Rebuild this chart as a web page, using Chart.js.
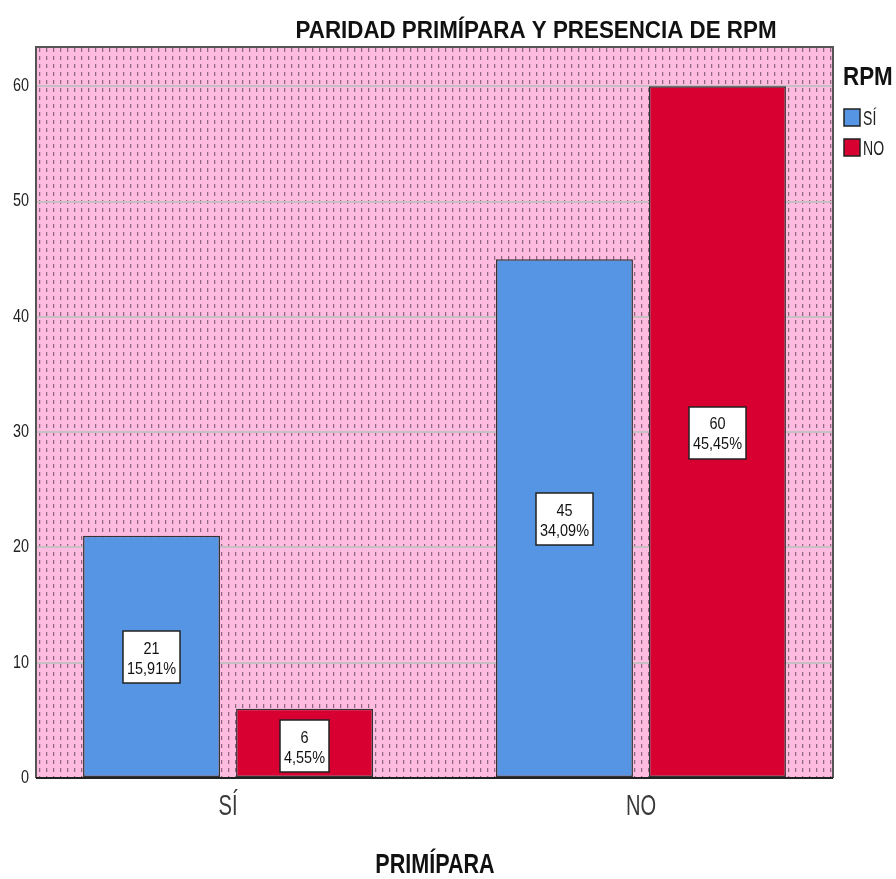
<!DOCTYPE html>
<html>
<head>
<meta charset="utf-8">
<script src="https://cdn.jsdelivr.net/npm/chart.js@4.4.1/dist/chart.umd.min.js"></script>
<style>
  html, body { margin: 0; padding: 0; background: #ffffff; }
  #wrap { width: 896px; height: 879px; position: relative; }
</style>
</head>
<body>
<div id="wrap"><canvas id="c" width="896" height="879"></canvas></div>
<script>
// Categories (PRIMÍPARA) and counts per RPM group
const categories = ['SÍ', 'NO'];
const rpmSi = [21, 45];
const rpmNo = [6, 60];
const seriesNames = ['SÍ', 'NO'];
const yTicks = [0, 10, 20, 30, 40, 50, 60];

const chartTitle = 'PARIDAD PRIMÍPARA Y PRESENCIA DE RPM';
const xTitle = 'PRIMÍPARA';
const legendTitle = 'RPM';

const FONT = "'Liberation Sans', Arial, sans-serif";
const BLUE = '#5595E3';
const RED = '#D70030';

const total = rpmSi.concat(rpmNo).reduce((a, b) => a + b, 0);
const pct = v => (v / total * 100).toFixed(2).replace('.', ',') + '%';
const toPoints = arr => arr.map((v, i) => ({ x: i, y: v }));

// condensed text: draws with a horizontal squeeze
function narrowText(ctx, text, x, y, font, sx, align, color) {
  ctx.save();
  ctx.font = font;
  ctx.fillStyle = color;
  ctx.textAlign = align;
  ctx.textBaseline = 'middle';
  ctx.translate(x, y);
  ctx.scale(sx, 1);
  ctx.fillText(text, 0, 0);
  ctx.restore();
}
function narrowWidth(ctx, text, font, sx) {
  ctx.save();
  ctx.font = font;
  const w = ctx.measureText(text).width * sx;
  ctx.restore();
  return w;
}

// Pink dotted fill for the plot area
function makePattern(ctx) {
  const p = document.createElement('canvas');
  p.width = 7; p.height = 8;
  const g = p.getContext('2d');
  g.fillStyle = '#FFBCE0';
  g.fillRect(0, 0, 7, 8);
  g.fillStyle = 'rgba(105,75,95,0.75)';
  g.fillRect(3, 1, 1, 4);
  g.fillStyle = 'rgba(105,75,95,0.2)';
  g.fillRect(4, 1, 1, 4);
  return ctx.createPattern(p, 'repeat');
}

const decor = {
  id: 'decor',
  beforeDraw(chart) {
    const { ctx, chartArea: a } = chart;
    ctx.save();
    ctx.translate(a.left, a.top);
    ctx.fillStyle = makePattern(ctx);
    ctx.fillRect(0, 0, a.right - a.left, a.bottom - a.top);
    ctx.restore();
  },
  afterDatasetsDraw(chart) {
    const { ctx, chartArea: a } = chart;
    ctx.save();
    // frame
    ctx.strokeStyle = '#555555';
    ctx.lineWidth = 2;
    ctx.beginPath();
    ctx.moveTo(a.left, a.bottom);
    ctx.lineTo(a.left, a.top);
    ctx.lineTo(a.right, a.top);
    ctx.lineTo(a.right, a.bottom);
    ctx.stroke();
    ctx.strokeStyle = '#222222';
    ctx.beginPath();
    ctx.moveTo(a.left, a.bottom);
    ctx.lineTo(a.right, a.bottom);
    ctx.stroke();
    ctx.restore();

    // y tick labels
    const ys = chart.scales.y;
    yTicks.forEach(v => {
      narrowText(ctx, String(v), 29, ys.getPixelForValue(v), '18px ' + FONT, 0.8, 'right', '#222222');
    });
    // x category labels
    const xs = chart.scales.x;
    categories.forEach((c, i) => {
      narrowText(ctx, c, xs.getPixelForValue(i), 807, '30px ' + FONT, 0.67, 'center', '#3a3a3a');
    });

    // value boxes
    const boxFont = '17px ' + FONT;
    chart.data.datasets.forEach((ds, di) => {
      chart.getDatasetMeta(di).data.forEach((bar, i) => {
        const v = ds.data[i].y;
        const l1 = String(v), l2 = pct(v);
        const w = Math.max(narrowWidth(ctx, l1, boxFont, 0.85), narrowWidth(ctx, l2, boxFont, 0.85)) + 8;
        const h = 52;
        const cx = bar.x, cy = (bar.y + bar.base) / 2 + (v < 10 ? 3 : 1);
        const bx = Math.round(cx - w / 2), by = Math.round(cy - h / 2);
        ctx.save();
        ctx.fillStyle = '#ffffff';
        ctx.fillRect(bx, by, Math.round(w), h);
        ctx.strokeStyle = '#222222';
        ctx.lineWidth = 1.5;
        ctx.strokeRect(bx, by, Math.round(w), h);
        ctx.restore();
        narrowText(ctx, l1, cx, cy - 8, boxFont, 0.85, 'center', '#111111');
        narrowText(ctx, l2, cx, cy + 12, boxFont, 0.85, 'center', '#111111');
      });
    });

    // title
    narrowText(ctx, chartTitle, 536, 31, 'bold 24px ' + FONT, 481 / narrowWidth(ctx, chartTitle, 'bold 24px ' + FONT, 1), 'center', '#111111');
    // x axis title
    narrowText(ctx, xTitle, 435, 865, 'bold 28px ' + FONT, 0.77, 'center', '#111111');

    // legend
    narrowText(ctx, legendTitle, 843, 78, 'bold 26px ' + FONT, 0.86, 'left', '#111111');
    chart.data.datasets.forEach((ds, di) => {
      const y = 109 + di * 30;
      ctx.save();
      ctx.fillStyle = ds.backgroundColor;
      ctx.fillRect(844, y, 16, 17);
      ctx.strokeStyle = '#222222';
      ctx.lineWidth = 1.5;
      ctx.strokeRect(844, y, 16, 17);
      ctx.restore();
      narrowText(ctx, ds.label, 863, y + 10, '21px ' + FONT, 0.67, 'left', '#222222');
    });
  }
};

new Chart(document.getElementById('c'), {
  type: 'bar',
  data: {
    datasets: [
      { label: seriesNames[0], data: toPoints(rpmSi), backgroundColor: BLUE, borderColor: '#333333', borderWidth: 1.5, borderSkipped: false },
      { label: seriesNames[1], data: toPoints(rpmNo), backgroundColor: RED, borderColor: '#333333', borderWidth: 1.5, borderSkipped: false }
    ]
  },
  options: {
    responsive: false,
    animation: false,
    events: [],
    layout: { padding: { top: 47, right: 63, left: 0, bottom: 0 } },
    categoryPercentage: 0.741,
    barPercentage: 0.895,
    plugins: { legend: { display: false }, tooltip: { enabled: false }, title: { display: false } },
    scales: {
      x: {
        type: 'linear',
        offset: false,
        bounds: 'data',
        afterDataLimits(s) { s.min = -0.465; s.max = 1.465; },
        afterBuildTicks(s) { s.ticks = categories.map((c, i) => ({ value: i })); },
        grid: { display: false, drawTicks: false, offset: false },
        border: { display: false },
        ticks: { display: false },
        afterFit(s) { s.height = 101; }
      },
      y: {
        min: 0,
        max: 63.4,
        afterBuildTicks(s) { s.ticks = yTicks.map(v => ({ value: v })); },
        grid: { color: '#C6C0C4', lineWidth: 2, drawTicks: false },
        border: { display: false },
        ticks: { display: false },
        afterFit(s) { s.width = 36; }
      }
    }
  },
  plugins: [decor]
});
</script>
</body>
</html>
